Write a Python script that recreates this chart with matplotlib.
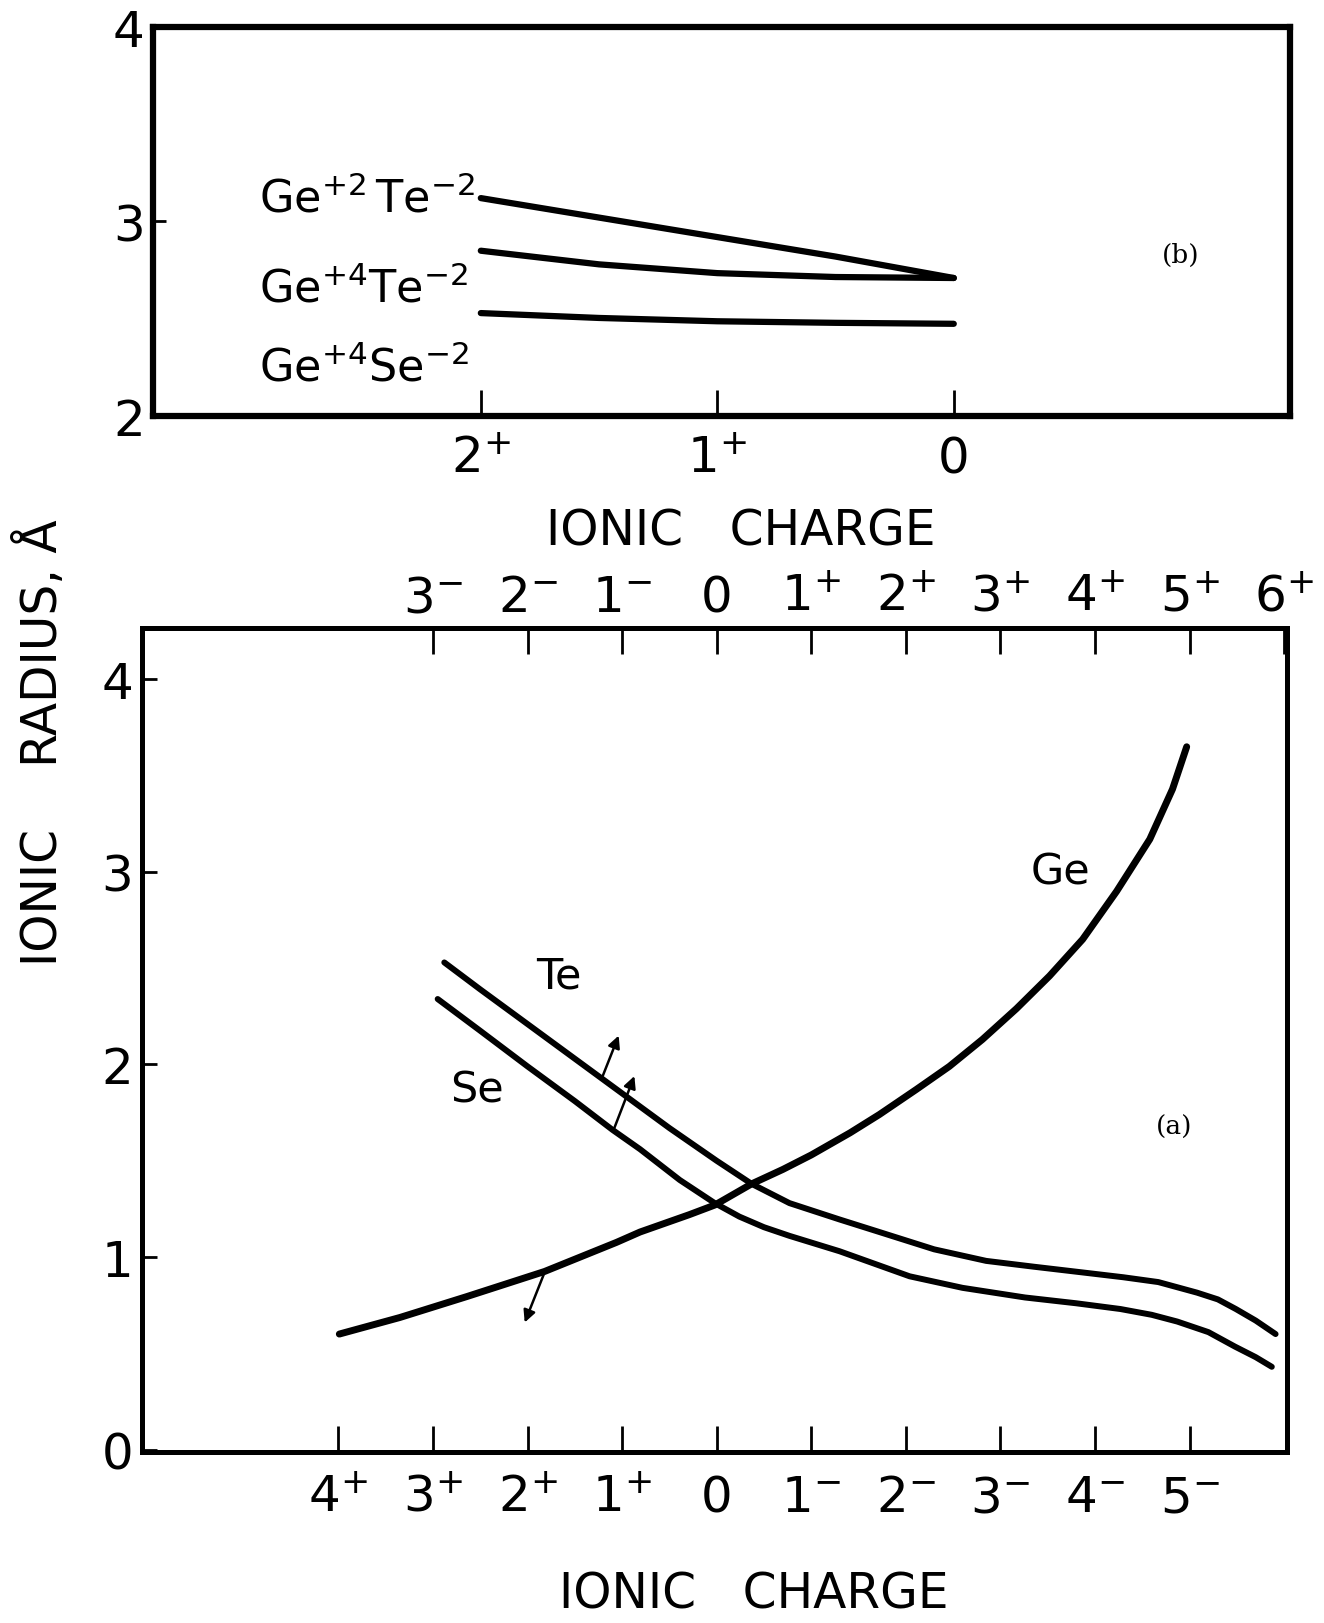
import matplotlib.pyplot as plt

plt.rcParams['font.family'] = ['DejaVu Sans']
plt.rcParams['mathtext.default'] = 'regular'

# ---- panel (b): radius vs ionic charge (cation charge, 2+ .. 0)
b_charge = [2, 1.5, 1, 0.5, 0]
b_gete_2 = [3.12, 3.02, 2.92, 2.82, 2.71]
b_gete_4 = [2.85, 2.78, 2.735, 2.715, 2.71]
b_gese_4 = [2.53, 2.505, 2.488, 2.48, 2.475]
b_labels = [r'$Ge^{+2}\,Te^{-2}$', r'$Ge^{+4}Te^{-2}$', r'$Ge^{+4}Se^{-2}$']
b_label_y = [3.05, 2.59, 2.185]
b_xticks = [2, 1, 0]
b_xticklabels = [r'$2^{+}$', r'$1^{+}$', '0']

# ---- panel (a): Ge read on bottom axis, Te/Se read on top axis
ge_charge = [3.99, 3.35, 2.64, 1.82, 1.06, 0.81, 0.29, 0.02, -0.37, -0.70,
             -1.0, -1.41, -1.72, -2.11, -2.46, -2.81, -3.17, -3.52, -3.87,
             -4.23, -4.58, -4.82, -4.97]
ge_radius = [0.60, 0.686, 0.795, 0.925, 1.076, 1.13, 1.22, 1.27, 1.38,
             1.455, 1.53, 1.645, 1.74, 1.87, 1.99, 2.13, 2.29, 2.46, 2.65,
             2.90, 3.17, 3.43, 3.65]

te_charge = [-2.88, -2.5, -2, -1.5, -1, -0.5, 0, 0.37, 0.77, 1.30, 1.72,
             2.3, 2.85, 3.35, 3.87, 4.3, 4.67, 5.08, 5.3, 5.49, 5.7, 5.91]
te_radius = [2.53, 2.39, 2.21, 2.03, 1.85, 1.67, 1.50, 1.38, 1.28, 1.195,
             1.13, 1.04, 0.98, 0.95, 0.92, 0.895, 0.87, 0.815, 0.78, 0.73,
             0.67, 0.60]

se_charge = [-2.95, -2.5, -2, -1.5, -1.1, -0.81, -0.39, -0.02, 0.24, 0.5,
             0.77, 1.30, 2.04, 2.6, 3.26, 3.8, 4.27, 4.6, 4.87, 5.2, 5.48,
             5.7, 5.87]
se_radius = [2.34, 2.175, 1.99, 1.81, 1.66, 1.56, 1.40, 1.28, 1.21, 1.155,
             1.11, 1.03, 0.90, 0.84, 0.79, 0.76, 0.73, 0.70, 0.665, 0.61,
             0.535, 0.48, 0.43]

bottom_charges = [4, 3, 2, 1, 0, -1, -2, -3, -4, -5]
top_charges = [-3, -2, -1, 0, 1, 2, 3, 4, 5, 6]

# arrows (tail, head) in panel (a) data coords
arrows = [((-1.205, 1.94), (-1.036, 2.15)),
          ((-1.09, 1.66), (-0.87, 1.94)),
          ((-1.82, 0.92), (-2.03, 0.66))]


def charge_label(q):
    if q == 0:
        return '0'
    sign = '+' if q > 0 else '-'
    return r'$%d^{%s}$' % (abs(q), sign)


fig = plt.figure(figsize=(13.24, 16.24), dpi=100)
line_kw = dict(color='k', solid_capstyle='round', solid_joinstyle='round')

# ---------------- panel (b)
axb = fig.add_axes([0.1156, 0.743, 0.8584, 0.240])
for ys in (b_gete_2, b_gete_4, b_gese_4):
    axb.plot(b_charge, ys, lw=4.5, **line_kw)
for lab, y in zip(b_labels, b_label_y):
    axb.text(2.94, y, lab, fontsize=32, ha='left', va='baseline')
axb.text(-0.96, 2.83, '(b)', fontsize=19, family='DejaVu Serif',
         ha='center', va='center')
axb.set_xlim(3.386, -1.42)
axb.set_ylim(2, 4)
axb.set_xticks(b_xticks)
axb.set_xticklabels(b_xticklabels)
axb.set_yticks([2, 3, 4])
axb.tick_params(axis='x', direction='in', length=19, width=2, pad=13,
                labelsize=36)
axb.tick_params(axis='y', direction='in', length=9, width=2, pad=6,
                labelsize=36)
for s in axb.spines.values():
    s.set_linewidth(4.5)
fig.text(0.5597, 0.673, 'IONIC   CHARGE', fontsize=35, ha='center',
         va='center')

# ---------------- panel (a)
axa = fig.add_axes([0.107, 0.105, 0.865, 0.5077])
axa.plot([-q for q in ge_charge], ge_radius, lw=5, **line_kw)
axa.plot(te_charge, te_radius, lw=4.3, **line_kw)
axa.plot(se_charge, se_radius, lw=4.3, **line_kw)
for tail, head in arrows:
    axa.annotate('', xy=head, xytext=tail,
                 arrowprops=dict(arrowstyle='-|>', lw=1.8, color='k',
                                 mutation_scale=18, shrinkA=0, shrinkB=0))
axa.text(-1.67, 2.46, 'Te', fontsize=31, ha='center', va='center')
axa.text(-2.54, 1.87, 'Se', fontsize=31, ha='center', va='center')
axa.text(3.64, 3.0, 'Ge', fontsize=31, ha='center', va='center')
axa.text(4.84, 1.68, '(a)', fontsize=19, family='DejaVu Serif',
         ha='center', va='center')

axa.set_xlim(-6.08, 6.03)
axa.set_ylim(-0.015, 4.267)
axa.set_xticks([-q for q in bottom_charges])
axa.set_xticklabels([charge_label(q) for q in bottom_charges])
axa.set_yticks([0, 1, 2, 3, 4])
axa.tick_params(axis='x', direction='in', length=19, width=2, pad=15,
                labelsize=36)
axa.tick_params(axis='y', direction='in', length=11, width=2, pad=6,
                labelsize=36)
top = axa.secondary_xaxis('top')
top.set_xticks(top_charges)
top.set_xticklabels([charge_label(q) for q in top_charges])
top.tick_params(direction='in', length=19, width=2, pad=5, labelsize=36)
for s in list(axa.spines.values()) + [top.spines['top']]:
    s.set_linewidth(3.6)

fig.text(0.5695, 0.018, 'IONIC   CHARGE', fontsize=35, ha='center',
         va='center')
fig.text(0.031, 0.5425, 'IONIC    RADIUS, Å', fontsize=35, rotation=90,
         ha='center', va='center')

fig.savefig('out.png', dpi=100)
